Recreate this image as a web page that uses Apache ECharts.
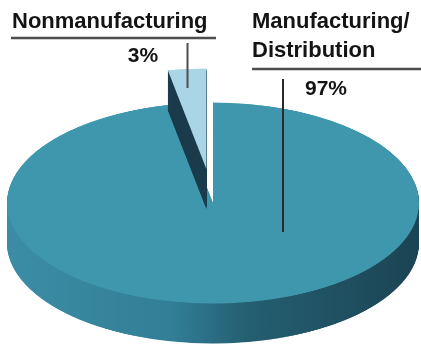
<!DOCTYPE html>
<html>
<head>
<meta charset="utf-8">
<script src="https://cdn.jsdelivr.net/npm/echarts@6/dist/echarts.min.js"></script>
<style>
  html, body { margin: 0; padding: 0; background: #ffffff; }
  #stage { position: relative; width: 421px; height: 346px; overflow: hidden; background: #ffffff; }
  /* the pie is drawn as a flat disc and tilted by squashing it vertically */
  #disc { position: absolute; left: 0; top: 0; width: 421px; height: 710px;
          transform: scaleY(0.4878); transform-origin: 0 0; }
  #notes { position: absolute; left: 0; top: 0; width: 421px; height: 346px; }
</style>
</head>
<body>
<div id="stage">
  <div id="disc"></div>
  <div id="notes"></div>
</div>
<script>
// Business split shown in the pie
const categories = ['Nonmanufacturing', 'Manufacturing/\nDistribution'];
const shares = [3, 97];

// colours for each slice: top face and side wall
const topColors = ['#a9d5e6', '#3e97ad'];
const sideColors = [
  '#1d3d4d',
  { type: 'linear', x: 7, y: 0, x2: 419, y2: 0, global: true,
    colorStops: [
      { offset: 0, color: '#3b8da5' },
      { offset: 0.4, color: '#327f97' },
      { offset: 0.58, color: '#255f72' },
      { offset: 1, color: '#1b4454' }
    ] }
];

const SQUASH = 0.4878;
const CX = 213;
const CY = 203 / SQUASH;     // centre of the top face before squashing
const R = 206;
const DEPTH = 40 / SQUASH;   // thickness of the disc before squashing
const EXPLODE = 70;

// one horizontal slice of the disc; only the slice at index `only` is painted
function layer(centerY, colors, only) {
  return {
    type: 'pie',
    silent: true,
    animation: false,
    center: [CX, centerY],
    radius: [0, R],
    startAngle: 90,
    clockwise: false,
    selectedMode: 'single',
    selectedOffset: EXPLODE,
    label: { show: false },
    labelLine: { show: false },
    emphasis: { disabled: true },
    data: categories.map((name, i) => {
      const c = i === only ? colors[i] : 'rgba(0,0,0,0)';
      return {
        name: name,
        value: shares[i],
        selected: i === 0,
        itemStyle: { color: c, borderWidth: 0 },
        select: { itemStyle: { color: c, borderWidth: 0 } }
      };
    })
  };
}

const series = [];
// the large slice first, then the pulled-out small slice over it
[1, 0].forEach(idx => {
  for (let k = DEPTH; k > 0; k -= 1.5) {
    series.push(layer(CY + k, sideColors, idx));
  }
  series.push(layer(CY, topColors, idx));
});

const disc = echarts.init(document.getElementById('disc'), null, { renderer: 'canvas' });
disc.setOption({ backgroundColor: 'transparent', animation: false, series: series });

// labels, underlines and leader lines
const font = '"Liberation Sans", Arial, sans-serif';
const ink = '#141414';
const rule = '#4d4d4d';
const notes = echarts.init(document.getElementById('notes'));
notes.setOption({
  backgroundColor: 'transparent',
  animation: false,
  graphic: [
    { type: 'text', x: 12, y: 22, style: { text: categories[0], font: 'bold 22px ' + font, fill: ink, align: 'left', verticalAlign: 'middle' } },
    { type: 'line', shape: { x1: 11, y1: 38, x2: 216, y2: 38 }, style: { stroke: rule, lineWidth: 2.5 } },
    { type: 'text', x: 143, y: 56, style: { text: shares[0] + '%', font: 'bold 21px ' + font, fill: ink, align: 'center', verticalAlign: 'middle' } },
    { type: 'line', shape: { x1: 187.5, y1: 43, x2: 187.5, y2: 88 }, style: { stroke: rule, lineWidth: 2 } },

    { type: 'text', x: 252, y: 36, style: { text: categories[1], font: 'bold 22px ' + font, lineHeight: 29, fill: ink, align: 'left', verticalAlign: 'middle' } },
    { type: 'line', shape: { x1: 252, y1: 69, x2: 421, y2: 69 }, style: { stroke: rule, lineWidth: 2.5 } },
    { type: 'text', x: 326, y: 89, style: { text: shares[1] + '%', font: 'bold 21px ' + font, fill: ink, align: 'center', verticalAlign: 'middle' } },
    { type: 'line', shape: { x1: 283, y1: 79, x2: 283, y2: 232 }, style: { stroke: '#2a2a2a', lineWidth: 2 } }
  ]
});
</script>
</body>
</html>
